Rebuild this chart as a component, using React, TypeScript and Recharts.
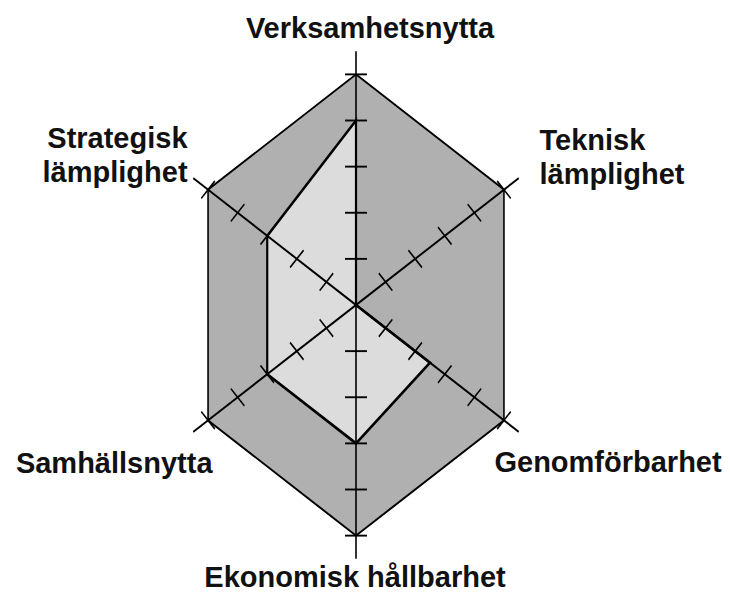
import React from "react";
import { RadarChart, Radar, PolarAngleAxis, PolarRadiusAxis } from "recharts";

// axes go clockwise from the top
const AXES = [
  "Verksamhetsnytta",
  "Teknisk lämplighet",
  "Genomförbarhet",
  "Ekonomisk hållbarhet",
  "Samhällsnytta",
  "Strategisk lämplighet",
];
const MAX_SCORE = [5, 5, 5, 5, 5, 5];
const SCORE = [4, 0, 2.5, 3, 3, 3];
const TICKS = [1, 2, 3, 4, 5];
const AXIS_END = 5.5; // spokes run a little past the top score
const DOMAIN_MAX = 6;

const W = 730;
const H = 595;
const CX = 356;
const CY = 305;
const R = 205;
// the original is taller than a regular hexagon
const STRETCH = 1.35;
const FONT = '"Liberation Sans", Arial, Helvetica, sans-serif';

const data = AXES.map((axis, i) => ({ axis, max: MAX_SCORE[i], score: SCORE[i] }));

// label placement relative to the angle-axis tick point (screen px)
const LABEL_OFFSET = [
  { dx: 14, dy: 21, anchor: "middle", wrap: false },
  { dx: -1, dy: -11, anchor: "start", wrap: true },
  { dx: -46, dy: 23, anchor: "start", wrap: false },
  { dx: -1, dy: -6, anchor: "middle", wrap: false },
  { dx: 41, dy: 24, anchor: "end", wrap: false },
  { dx: 16, dy: -13, anchor: "end", wrap: true },
];

function AxisLabel(props: any) {
  const { x, y, payload } = props;
  const i = props.index ?? AXES.indexOf(payload.value);
  const o = LABEL_OFFSET[i] ?? LABEL_OFFSET[0];
  const value = String(payload.value);
  const lines = o.wrap ? value.split(" ") : [value];
  return (
    <g transform={`translate(${x},${y}) scale(1,${1 / STRETCH})`}>
      <text
        x={o.dx}
        y={o.dy}
        textAnchor={o.anchor}
        fontFamily={FONT}
        fontWeight={700}
        fontSize={29}
        fill="#111"
      >
        {lines.map((l, k) => (
          <tspan key={k} x={o.dx} dy={k === 0 ? 0 : 34}>
            {l}
          </tspan>
        ))}
      </text>
    </g>
  );
}

// small cross-bar across the spoke, perpendicular on screen
function TickMark(props: any) {
  const { cx, cy, index } = props;
  const dx = cx - CX;
  const dy = (cy - CY) * STRETCH;
  const len = Math.hypot(dx, dy) || 1;
  const half = 11;
  const px = (-dy / len) * half;
  const py = ((dx / len) * half) / STRETCH;
  return (
    <line
      key={`t-${index}-${cx}-${cy}`}
      x1={cx - px}
      y1={cy - py}
      x2={cx + px}
      y2={cy + py}
      stroke="#000"
      strokeWidth={1.4}
    />
  );
}

// spoke from the centre out past the outer hexagon, drawn above the fills
function Spoke(props: any) {
  const { cx, cy, index } = props;
  return (
    <line key={`s-${index}`} x1={CX} y1={CY} x2={cx} y2={cy} stroke="#000" strokeWidth={1.6} />
  );
}

export default function App() {
  return (
    <div
      style={{
        position: "absolute",
        left: 0,
        top: 0,
        width: W,
        height: H,
        background: "#fff",
        overflow: "hidden",
      }}
    >
      <div style={{ transform: `scaleY(${STRETCH})`, transformOrigin: `${CX}px ${CY}px` }}>
        <RadarChart
          width={W}
          height={H}
          cx={CX}
          cy={CY}
          outerRadius={R}
          data={data}
          margin={{ top: 0, right: 0, bottom: 0, left: 0 }}
        >
          <PolarRadiusAxis domain={[0, DOMAIN_MAX]} type="number" tick={false} axisLine={false} />
          <PolarAngleAxis dataKey="axis" tick={AxisLabel} tickLine={false} axisLine={false} />
          <Radar
            name="max"
            dataKey="max"
            stroke="#000"
            strokeWidth={1.6}
            fill="#b0b0b0"
            fillOpacity={1}
            isAnimationActive={false}
          />
          <Radar
            name="score"
            dataKey="score"
            stroke="#000"
            strokeWidth={2.2}
            fill="#dcdcdc"
            fillOpacity={1}
            isAnimationActive={false}
          />
          <Radar
            name="spokes"
            dataKey={() => AXIS_END}
            stroke="none"
            fill="none"
            dot={Spoke}
            isAnimationActive={false}
          />
          {TICKS.map((t) => (
            <Radar
              key={t}
              name={`tick${t}`}
              dataKey={() => t}
              stroke="none"
              fill="none"
              dot={TickMark}
              isAnimationActive={false}
            />
          ))}
        </RadarChart>
      </div>
    </div>
  );
}
